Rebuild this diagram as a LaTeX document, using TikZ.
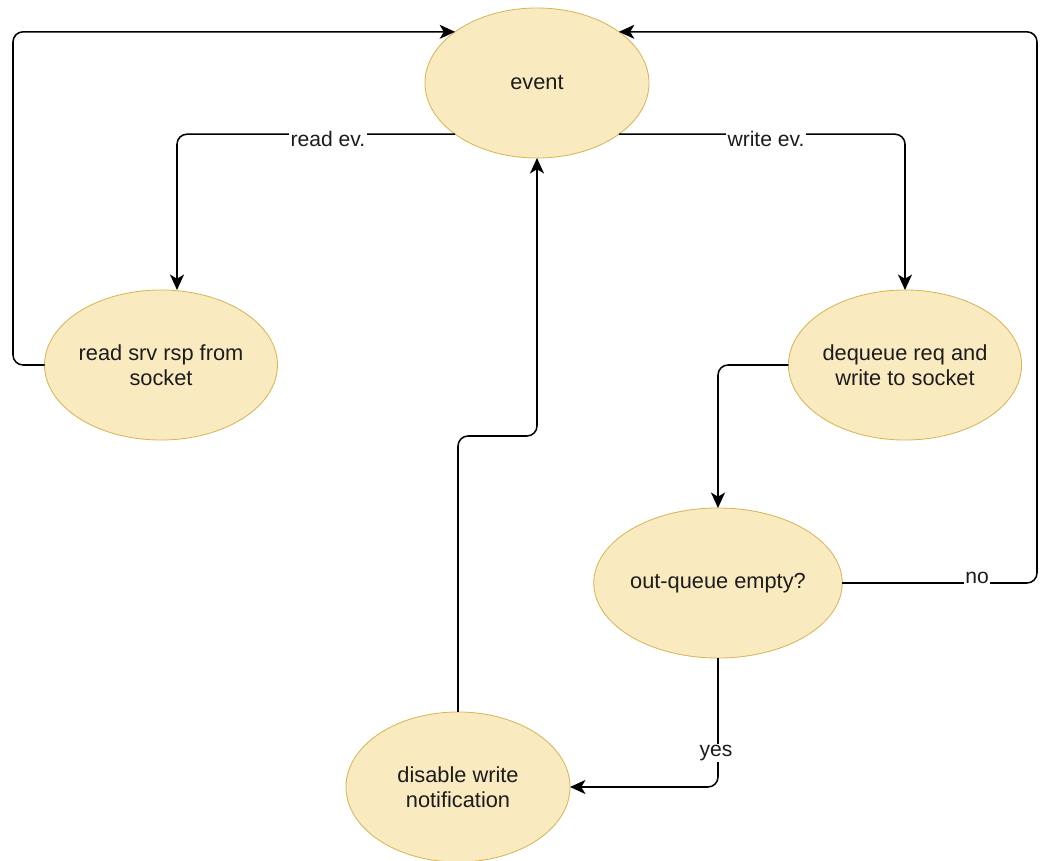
\documentclass[tikz,border=0pt]{standalone}
\usepackage{fontspec}
\setmainfont{Liberation Sans}
\usetikzlibrary{arrows.meta,shapes.geometric}
\definecolor{statefill}{RGB}{249,234,192}
\definecolor{stateline}{RGB}{214,182,86}
\definecolor{textgray}{RGB}{28,28,28}

\begin{document}
\begin{tikzpicture}[x=0.025cm, y=-0.025cm,
    state/.style={ellipse, draw=stateline, line width=0.6pt, fill=statefill,
        minimum width=5.6cm, minimum height=3.75cm, inner sep=0pt, outer sep=0pt,
        align=center, text=textgray, font=\fontsize{15.5}{18}\selectfont},
    flow/.style={draw=black, line width=1.1pt, rounded corners=0.25cm,
        -{Stealth[length=11pt,width=10pt,inset=3pt]}},
    edgelabel/.style={fill=white, inner sep=1pt, text=textgray,
        font=\fontsize{15}{18}\selectfont}]
    \useasboundingbox (0,0) rectangle (1041,861);

    % States
    \node[state] (event) at (537,83) {event};
    \node[state] (read) at (161,365) {read srv rsp from\\socket};
    \node[state] (dequeue) at (905,365) {dequeue req and\\write to socket};
    \node[state] (outq) at (718,583) {out-queue empty?};
    \node[state] (disable) at (458,787) {disable write\\notification};

    % Bends
    \coordinate (lefttop) at (13,32);
    \coordinate (rightbot) at (1037,583);
    \coordinate (midup) at (537,436);

    % Transitions
    \draw[flow] (event.212) -| ([xshift=0.4cm]read.north);
    \draw[flow] (event.328) -| (dequeue.north);
    \draw[flow] (read.west) -| (lefttop |- event.148) -- (event.148);
    \draw[flow] (dequeue.west) -| (outq.north);
    \draw[flow] (outq.south) |- (disable.east);
    \draw[flow] (outq.east) -- (rightbot) |- (event.32);
    \draw[flow] (disable.north) |- (midup) -- (event.south);

    % Labels
    \node[edgelabel] (readlbl) at (328,139) {read ev.};
    \node[edgelabel] (writelbl) at (766,139) {write ev.};
    \node[edgelabel] (nolbl) at (977,578) {no};
    \node[edgelabel] (yeslbl) at (716,753) {yes};
\end{tikzpicture}
\end{document}
